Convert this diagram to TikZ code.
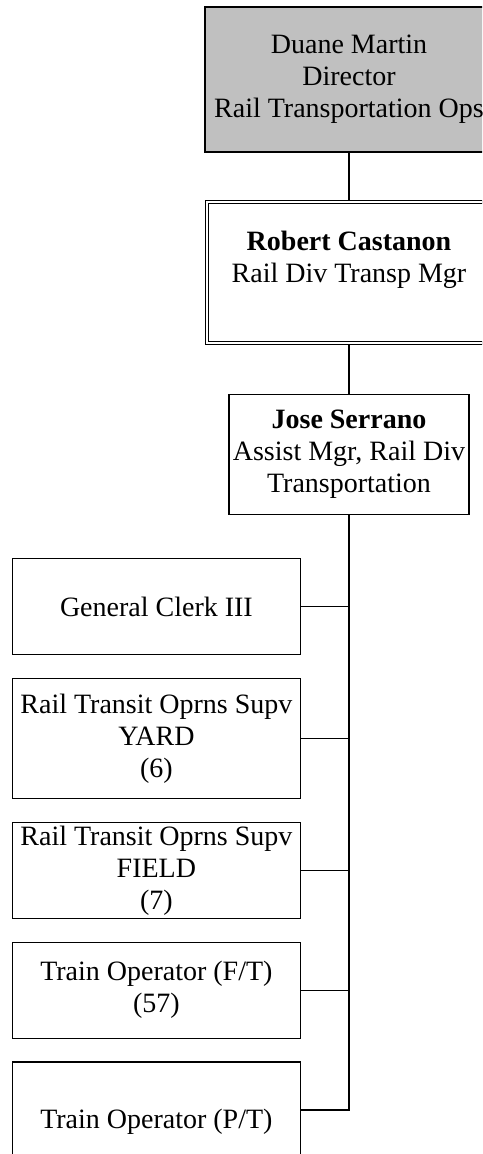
\documentclass[tikz,border=0pt]{standalone}
\usepackage{fontspec}
\setmainfont{Liberation Serif}
\usepackage{xcolor}
\usetikzlibrary{positioning}
\definecolor{headgray}{HTML}{C0C0C0}

\begin{document}
\begin{tikzpicture}[
    node distance=22.6pt,
    box/.style={rectangle, draw, line width=1.2pt, align=center, inner xsep=2pt, inner ysep=0pt,
        font=\fontsize{28}{32}\selectfont},
    head/.style={box, fill=headgray, minimum width=288pt, minimum height=145pt},
    lead/.style={box, double, double distance=2.2pt, line width=1.1pt, minimum width=284pt, minimum height=141pt, outer sep=2.2pt},
    deputy/.style={box, minimum width=240pt, minimum height=120pt},
    staff/.style={box, minimum width=288pt, minimum height=96pt},
    link/.style={line width=1.2pt}
]
    \useasboundingbox (0,0) rectangle (482pt,-1154pt);
    \clip (0,0) rectangle (482pt,-1154pt);

    \node (dir) [head] at (349pt,-79.5pt) {Duane Martin\\Director\\Rail Transportation Ops};
    \node (mgr) [lead, below=47pt of dir] {\textbf{Robert Castanon}\\Rail Div Transp Mgr\\\mbox{}};
    \node (asst) [deputy, below=49pt of mgr] {\textbf{Jose Serrano}\\Assist Mgr, Rail Div\\Transportation};
    \node (clerk) [staff, anchor=north east] at ([xshift=-48pt, yshift=-43pt]asst.south) {General Clerk III};
    \node (yard) [staff, below=of clerk, minimum height=120pt] {Rail Transit Oprns Supv\\YARD\\(6)};
    \node (field) [staff, below=of yard] {Rail Transit Oprns Supv\\FIELD\\(7)};
    \node (ft) [staff, below=of field] {Train Operator (F/T)\\(57)};
    \node (pt) [staff, below=of ft, text height=43pt, text depth=7pt] {Train Operator (P/T)};

    \draw [link] (dir) -- (mgr);
    \draw [link] (mgr) -- (asst);
    \draw [link] (asst.south) -- (asst.south |- pt.east) -- (pt.east);
    \draw [link] (clerk.east) -- (clerk.east -| asst.south);
    \draw [link] (yard.east) -- (yard.east -| asst.south);
    \draw [link] (field.east) -- (field.east -| asst.south);
    \draw [link] (ft.east) -- (ft.east -| asst.south);
\end{tikzpicture}
\end{document}
